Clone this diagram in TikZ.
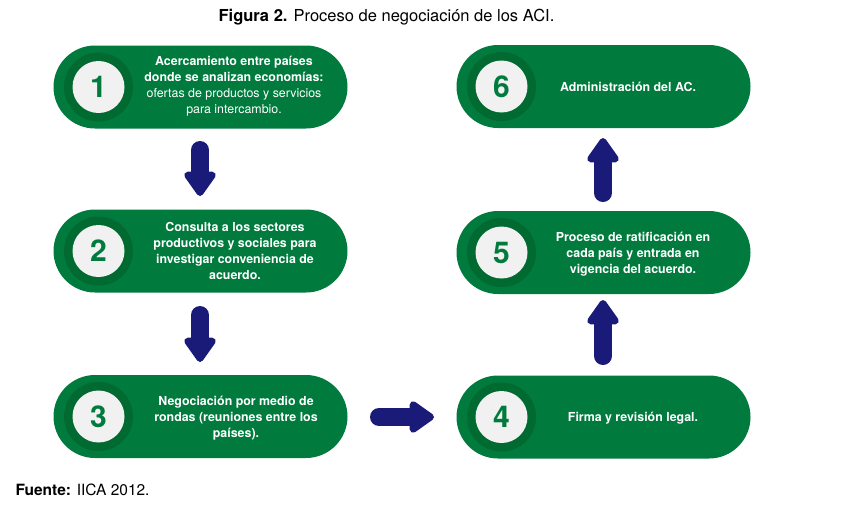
\documentclass[tikz,border=0pt]{standalone}
\usepackage{fontspec}
\setmainfont{TeX Gyre Heros}
\usetikzlibrary{arrows.meta}
\definecolor{pgreen}{HTML}{007A3D}
\definecolor{dgreen}{HTML}{006A30}
\definecolor{lgray}{HTML}{F1F1F1}
\definecolor{navy}{HTML}{1A1A78}
\tikzset{
  pill/.style={fill=pgreen, draw=none, rounded corners=41.5pt, minimum width=294pt, minimum height=83pt, inner sep=0pt},
  ring/.style={circle, fill=dgreen, minimum size=69pt, inner sep=0pt},
  numc/.style={circle, fill=lgray, minimum size=52pt, inner sep=0pt, text=pgreen, font=\fontsize{30}{30}\selectfont\bfseries},
  ptext/.style={text=white, align=center, font=\fontsize{12.4}{16}\selectfont\bfseries},
  barrow/.style={draw=navy, line width=18pt, line cap=round, -{Triangle[length=27pt,width=36pt,round]}},
}
\begin{document}
\begin{tikzpicture}[x=1pt,y=-1pt]
\useasboundingbox (0,0) rectangle (861,507);
% title
\node[anchor=center, font=\fontsize{16.5}{18}\selectfont] (title) at (386.5,17) {\textbf{Figura 2.} Proceso de negociación de los ACI.};
% pills
\node[pill] (p1) at (200.5,87) {};
\node[pill] (p2) at (200.5,251) {};
\node[pill] (p3) at (200.5,416.5) {};
\node[pill] (p4) at (603.5,417) {};
\node[pill] (p5) at (603.5,252.5) {};
\node[pill] (p6) at (603.5,86.5) {};
% rings and numbers
\foreach \p/\n in {p1/1,p2/2,p3/3,p4/4,p5/5,p6/6}{
  \node[ring] (r\n) at ([xshift=-102pt]\p.center) {};
  \node[numc] (c\n) at (r\n.center) {\n};
}
% texts
\node[ptext] (t1) at (234,86) {Acercamiento entre países\\donde se analizan economías:\\\mdseries ofertas de productos y servicios\\\mdseries para intercambio.};
\node[ptext] (t2) at (235,251) {Consulta a los sectores\\productivos y sociales para\\investigar conveniencia de\\acuerdo.};
\node[ptext] (t3) at (236,418) {Negociación por medio de\\rondas (reuniones entre los\\países).};
\node[ptext] (t4) at (633,418) {Firma y revisión legal.};
\node[ptext] (t5) at (633,254) {Proceso de ratificación en\\cada país y entrada en\\vigencia del acuerdo.};
\node[ptext] (t6) at (628,87) {Administración del AC.};
% arrows
\coordinate (a1s) at (200,150);
\coordinate (a1e) at (200,196);
\coordinate (a2s) at (200,315);
\coordinate (a2e) at (200,362);
\coordinate (a3s) at (379,417);
\coordinate (a3e) at (434,417);
\coordinate (a4s) at (603,356);
\coordinate (a4e) at (603,300);
\coordinate (a5s) at (603,193);
\coordinate (a5e) at (603,138);
\draw[barrow] (a1s) -- (a1e);
\draw[barrow] (a2s) -- (a2e);
\draw[barrow] (a3s) -- (a3e);
\draw[barrow] (a4s) -- (a4e);
\draw[barrow] (a5s) -- (a5e);
% source
\node[anchor=west, font=\fontsize{15.5}{17}\selectfont] (src) at (12,490) {\textbf{Fuente:} IICA 2012.};
\end{tikzpicture}
\end{document}
